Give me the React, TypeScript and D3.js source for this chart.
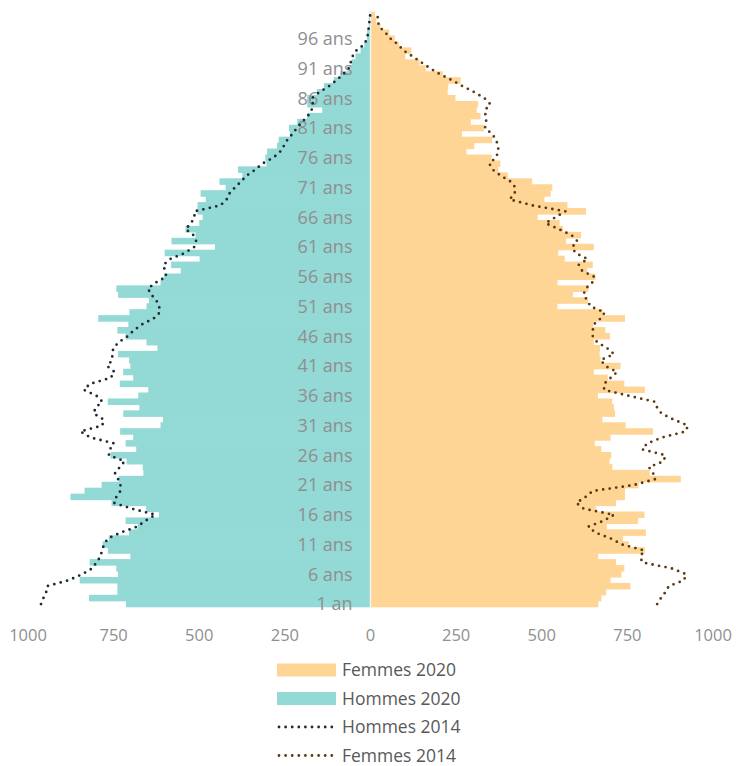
import React, { useEffect, useRef } from 'react';
import * as d3 from 'd3';

// âges 1 à 100 (du bas vers le haut)
const ages: number[] = d3.range(1, 101);

const hommes2020: number[] = [
  714, 822, 739, 739, 849, 737, 742, 820, 701, 767,
  782, 764, 705, 680, 715, 618, 655, 756, 876, 835,
  785, 735, 663, 665, 712, 759, 684, 715, 693, 731,
  613, 606, 722, 675, 767, 678, 649, 732, 693, 722,
  701, 705, 737, 622, 654, 715, 739, 707, 795, 704,
  654, 647, 737, 742, 613, 603, 554, 582, 499, 601,
  454, 581, 511, 540, 500, 490, 505, 505, 481, 496,
  423, 441, 374, 387, 304, 307, 302, 273, 268, 235,
  238, 214, 185, 141, 185, 185, 156, 136, 107, 88,
  60, 55, 44, 29, 18, 10, 10, 5, 5, 3,
];

const femmes2020: number[] = [
  665, 674, 688, 759, 701, 733, 741, 717, 665, 801,
  754, 737, 804, 690, 781, 800, 658, 717, 743, 743,
  783, 906, 815, 706, 698, 703, 674, 655, 701, 825,
  745, 677, 714, 711, 706, 664, 801, 741, 693, 652,
  730, 672, 669, 670, 652, 699, 686, 650, 743, 678,
  546, 635, 591, 636, 546, 657, 633, 649, 567, 548,
  652, 571, 615, 562, 552, 488, 629, 575, 508, 526,
  531, 472, 401, 373, 379, 354, 280, 303, 355, 267,
  331, 293, 321, 310, 314, 248, 225, 227, 263, 211,
  161, 143, 102, 119, 83, 71, 55, 29, 17, 13,
];

const hommes2014: number[] = [
  962, 955, 947, 944, 881, 842, 812, 800, 788, 784,
  778, 767, 730, 681, 657, 628, 695, 749, 742, 730,
  730, 737, 746, 732, 718, 764, 761, 749, 818, 847,
  783, 779, 808, 803, 783, 800, 837, 819, 759, 747,
  769, 754, 754, 751, 735, 709, 691, 667, 633, 615,
  617, 625, 640, 650, 628, 596, 600, 605, 584, 542,
  515, 509, 517, 540, 524, 514, 514, 438, 420, 412,
  396, 378, 362, 336, 316, 284, 264, 253, 243, 228,
  215, 200, 183, 172, 168, 172, 150, 122, 100, 80,
  64, 58, 53, 42, 19, 10, 7, 5, 3, 1,
];

const femmes2014: number[] = [
  837, 848, 861, 871, 915, 922, 879, 793, 788, 799,
  735, 702, 657, 636, 681, 711, 623, 601, 628, 649,
  769, 832, 825, 813, 856, 861, 793, 808, 852, 920,
  927, 885, 850, 837, 830, 754, 682, 682, 701, 720,
  686, 672, 711, 691, 662, 649, 649, 652, 672, 684,
  643, 633, 622, 628, 647, 653, 618, 608, 634, 598,
  589, 604, 587, 550, 511, 540, 569, 472, 406, 421,
  423, 409, 380, 357, 347, 365, 374, 372, 367, 355,
  334, 338, 336, 334, 350, 333, 304, 270, 239, 204,
  175, 149, 124, 97, 81, 59, 44, 26, 21, 21,
];

const xTicks: number[] = [-1000, -750, -500, -250, 0, 250, 500, 750, 1000];
const ageLabels: number[] = d3.range(1, 101, 5);

const legendItems = [
  { label: 'Femmes 2020', type: 'bar', color: '#FFD596' },
  { label: 'Hommes 2020', type: 'bar', color: '#93D9D5' },
  { label: 'Hommes 2014', type: 'line', color: '#1E2B37' },
  { label: 'Femmes 2014', type: 'line', color: '#5B3A12' },
];

export default function App() {
  const svgRef = useRef<SVGSVGElement>(null);
  const width = 738;
  const height = 766;
  const plot = { left: 28, right: 713, top: 12, bottom: 607 };

  useEffect(() => {
    const svg = d3.select(svgRef.current);
    svg.selectAll('*').remove();

    const x = d3.scaleLinear().domain([-1000, 1000]).range([plot.left, plot.right]);
    const y = d3
      .scaleBand<number>()
      .domain(ages)
      .range([plot.bottom, plot.top])
      .padding(0);
    const bw = y.bandwidth();
    const font = '"Open Sans", sans-serif';

    // barres hommes 2020
    svg
      .append('g')
      .selectAll('rect')
      .data(hommes2020)
      .enter()
      .append('rect')
      .attr('x', (d) => x(-d))
      .attr('y', (_, i) => y(ages[i])! - 0.3)
      .attr('width', (d) => x(0) - x(-d))
      .attr('height', bw + 0.6)
      .attr('fill', '#93D9D5');

    // barres femmes 2020
    svg
      .append('g')
      .selectAll('rect')
      .data(femmes2020)
      .enter()
      .append('rect')
      .attr('x', x(0))
      .attr('y', (_, i) => y(ages[i])! - 0.3)
      .attr('width', (d) => x(d) - x(0))
      .attr('height', bw + 0.6)
      .attr('fill', '#FFD596');

    // axe vertical
    svg
      .append('line')
      .attr('x1', x(0))
      .attr('x2', x(0))
      .attr('y1', plot.top)
      .attr('y2', plot.bottom)
      .attr('stroke', '#f4f4f4')
      .attr('stroke-width', 1.5);

    // étiquettes des âges
    svg
      .append('g')
      .selectAll('text')
      .data(ageLabels)
      .enter()
      .append('text')
      .text((a) => (a === 1 ? '1 an' : `${a} ans`))
      .attr('x', x(0) - 18)
      .attr('y', (a) => y(a)! + bw / 2)
      .attr('dy', '0.35em')
      .attr('text-anchor', 'end')
      .attr('font-family', font)
      .attr('font-size', '18px')
      .attr('fill', '#8f8f8f');

    // lignes 2014
    const line = d3
      .line<number>()
      .x((d) => d)
      .y((_, i) => y(ages[i])! + bw / 2);

    const drawDotted = (values: number[], sign: number, color: string) => {
      svg
        .append('path')
        .datum(values.map((v) => x(sign * v)))
        .attr('d', line)
        .attr('fill', 'none')
        .attr('stroke', color)
        .attr('stroke-width', 2.8)
        .attr('stroke-linecap', 'round')
        .attr('stroke-dasharray', '0 6.6');
    };
    drawDotted(hommes2014, -1, '#1E2B37');
    drawDotted(femmes2014, 1, '#5B3A12');

    // axe des x
    svg
      .append('g')
      .selectAll('text')
      .data(xTicks)
      .enter()
      .append('text')
      .text((d) => Math.abs(d))
      .attr('x', (d) => x(d))
      .attr('y', 635)
      .attr('dy', '0.35em')
      .attr('text-anchor', 'middle')
      .attr('font-family', font)
      .attr('font-size', '16.5px')
      .attr('fill', '#8f8f8f');

    // légende
    const legend = svg
      .append('g')
      .selectAll('g')
      .data(legendItems)
      .enter()
      .append('g')
      .attr('transform', (_, i) => `translate(277,${670 + i * 28.5})`);

    legend
      .filter((d) => d.type === 'bar')
      .append('rect')
      .attr('x', 0)
      .attr('y', -6.5)
      .attr('width', 59)
      .attr('height', 13)
      .attr('fill', (d) => d.color);

    legend
      .filter((d) => d.type === 'line')
      .append('line')
      .attr('x1', 2)
      .attr('x2', 58)
      .attr('y1', 0)
      .attr('y2', 0)
      .attr('stroke', (d) => d.color)
      .attr('stroke-width', 2.8)
      .attr('stroke-linecap', 'round')
      .attr('stroke-dasharray', '0 6.6');

    legend
      .append('text')
      .text((d) => d.label)
      .attr('x', 65)
      .attr('y', 0)
      .attr('dy', '0.35em')
      .attr('font-family', font)
      .attr('font-size', '17.5px')
      .attr('fill', '#595959');
  }, []);

  return (
    <svg
      ref={svgRef}
      width={width}
      height={height}
      style={{ position: 'absolute', left: 0, top: 0, background: '#fff' }}
    ></svg>
  );
}
